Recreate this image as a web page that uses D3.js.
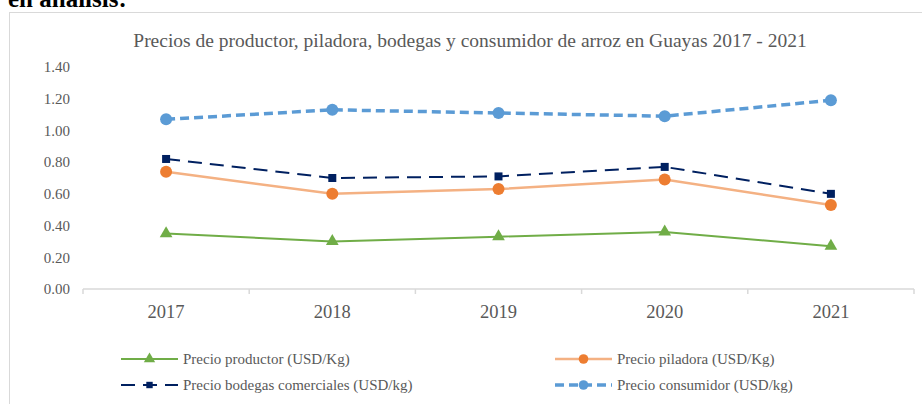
<!DOCTYPE html>
<html>
<head>
<meta charset="utf-8">
<script src="https://cdn.jsdelivr.net/npm/d3@7"></script>
<style>
body { margin: 0; background: #fff; }
svg { display: block; font-family: "Liberation Serif", "Times New Roman", serif; }
svg text { font-family: "Liberation Serif", "Times New Roman", serif; }
</style>
</head>
<body>
<svg id="chart" width="922" height="404"></svg>
<script>
var years = ["2017", "2018", "2019", "2020", "2021"];
var yTicks = [0, 0.2, 0.4, 0.6, 0.8, 1.0, 1.2, 1.4];

var productor = [0.35, 0.30, 0.33, 0.36, 0.27];
var piladora = [0.74, 0.60, 0.63, 0.69, 0.53];
var bodegas = [0.82, 0.70, 0.71, 0.77, 0.60];
var consumidor = [1.07, 1.13, 1.11, 1.09, 1.19];

var seriesNames = ["Precio productor (USD/Kg)", "Precio piladora (USD/Kg)",
					"Precio bodegas comerciales (USD/kg)", "Precio consumidor (USD/kg)"];

var series = [
	{ name: seriesNames[0], values: productor, line: "#70ad47", marker: "#70ad47", width: 2, dash: null, shape: "triangle" },
	{ name: seriesNames[1], values: piladora, line: "#f4b183", marker: "#ed7d31", width: 2.5, dash: null, shape: "circle" },
	{ name: seriesNames[2], values: bodegas, line: "#002060", marker: "#002060", width: 2, dash: "14,8", shape: "square" },
	{ name: seriesNames[3], values: consumidor, line: "#5b9bd5", marker: "#5b9bd5", width: 3.5, dash: "9,5", shape: "circle" }
];

var svg = d3.select("#chart");

// partial heading of the document above the chart
svg.append("text")
	.attr("x", 8).attr("y", 7)
	.attr("font-size", 25).attr("font-weight", "bold").attr("fill", "#000")
	.text("en análisis:");

// chart frame
svg.append("rect")
	.attr("x", 9.5).attr("y", 12.5)
	.attr("width", 930).attr("height", 420)
	.attr("fill", "#fff").attr("stroke", "#d9d9d9");

svg.append("text")
	.attr("x", 470).attr("y", 47)
	.attr("text-anchor", "middle")
	.attr("font-size", 19.5).attr("fill", "#595959")
	.text("Precios de productor, piladora, bodegas y consumidor de arroz en Guayas 2017 - 2021");

var xScale = d3.scaleBand()
	.domain(years)
	.range([83, 914]);

var yScale = d3.scaleLinear()
	.domain([0, 1.4])
	.range([289, 67]);

// y axis labels (no line)
var yAxis = svg.append("g")
	.attr("transform", "translate(70,0)")
	.call(d3.axisLeft(yScale).tickValues(yTicks).tickSize(0).tickPadding(0).tickFormat(d3.format(".2f")));
yAxis.attr("font-family", null).attr("font-size", null);
yAxis.select(".domain").remove();
yAxis.selectAll("text")
	.attr("font-size", 15).attr("fill", "#595959");

// x axis with ticks between categories
var xAxis = svg.append("g")
	.attr("transform", "translate(0,289)");
xAxis.append("line")
	.attr("x1", 83).attr("x2", 914)
	.attr("stroke", "#d9d9d9").attr("stroke-width", 1.5);
xAxis.selectAll(".tk")
	.data(years.concat(["end"]))
	.enter().append("line")
		.attr("class", "tk")
		.attr("x1", function(d, i) { return i < years.length ? xScale(d) : xScale.range()[1]; })
		.attr("x2", function(d, i) { return i < years.length ? xScale(d) : xScale.range()[1]; })
		.attr("y1", 0).attr("y2", 5)
		.attr("stroke", "#d9d9d9").attr("stroke-width", 1.5);
xAxis.selectAll(".lbl")
	.data(years)
	.enter().append("text")
		.attr("class", "lbl")
		.attr("x", function(d) { return xScale(d) + xScale.bandwidth() / 2; })
		.attr("y", 29)
		.attr("text-anchor", "middle")
		.attr("font-size", 18.5).attr("fill", "#595959")
		.text(function(d) { return d; });

function drawMarker(g, shape, color, x, y, scale) {
	var s = scale || 1;
	if (shape === "triangle") {
		g.append("path")
			.attr("d", d3.symbol().type(d3.symbolTriangle).size(70 * s)())
			.attr("transform", "translate(" + x + "," + y + ")")
			.attr("fill", color);
	} else if (shape === "square") {
		g.append("rect")
			.attr("x", x - 4 * s).attr("y", y - 4 * s)
			.attr("width", 8 * s).attr("height", 8 * s)
			.attr("fill", color);
	} else {
		g.append("circle")
			.attr("cx", x).attr("cy", y).attr("r", 6 * s)
			.attr("fill", color);
	}
}

var line = d3.line()
	.x(function(d, i) { return xScale(years[i]) + xScale.bandwidth() / 2; })
	.y(function(d) { return yScale(d); });

var plot = svg.append("g");
series.forEach(function(s) {
	plot.append("path")
		.datum(s.values)
		.attr("d", line)
		.attr("fill", "none")
		.attr("stroke", s.line)
		.attr("stroke-width", s.width)
		.attr("stroke-dasharray", s.dash);
	s.values.forEach(function(v, i) {
		drawMarker(plot, s.shape, s.marker, xScale(years[i]) + xScale.bandwidth() / 2, yScale(v));
	});
});

// legend
var legendPos = [[121, 359], [555, 359], [121, 385], [555, 385]];
var legend = svg.append("g");
series.forEach(function(s, i) {
	var lx = legendPos[i][0], ly = legendPos[i][1];
	legend.append("line")
		.attr("x1", lx).attr("x2", lx + 57)
		.attr("y1", ly).attr("y2", ly)
		.attr("stroke", s.line)
		.attr("stroke-width", s.width)
		.attr("stroke-dasharray", s.dash ? (i === 2 ? "14,8" : "9,5") : null);
	drawMarker(legend, s.shape, s.marker, lx + 28.5, ly, 0.8);
	legend.append("text")
		.attr("x", lx + 62).attr("y", ly + 5)
		.attr("font-size", 15).attr("fill", "#595959")
		.text(s.name);
});
</script>
</body>
</html>
